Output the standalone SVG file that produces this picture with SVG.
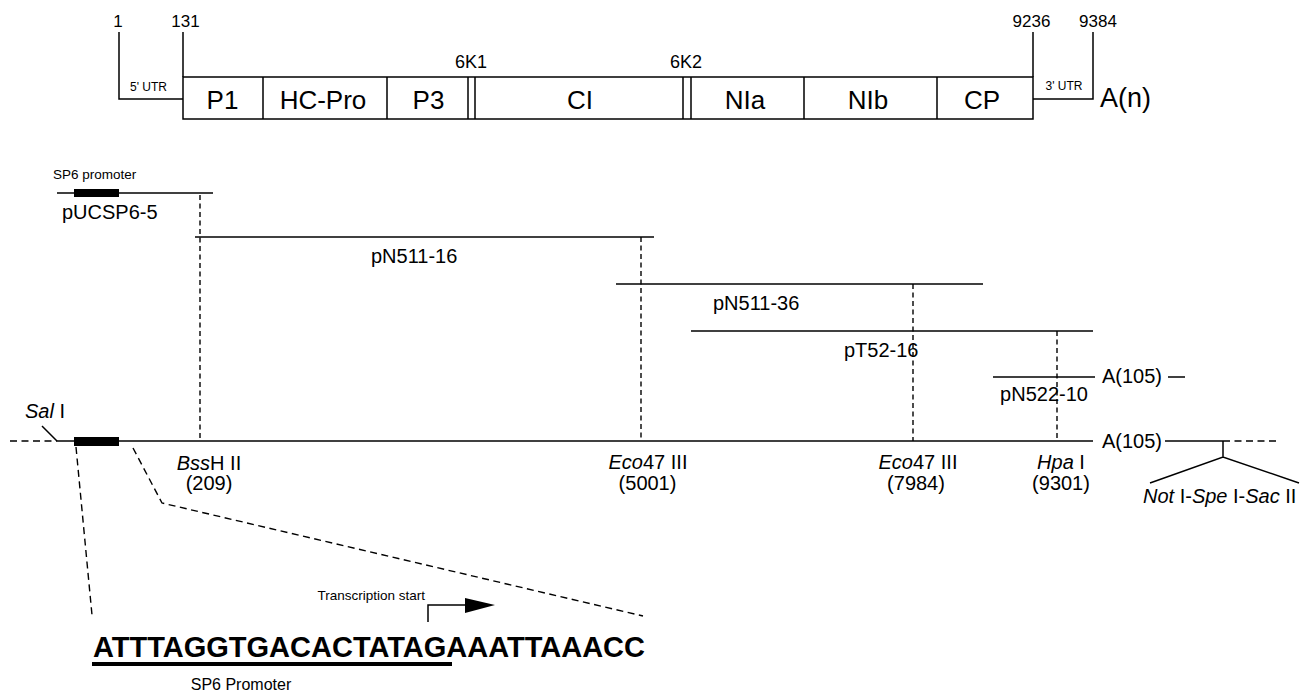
<svg xmlns="http://www.w3.org/2000/svg" width="1316" height="696" viewBox="0 0 1316 696">
<style>
text{font-family:"Liberation Sans",Arial,Helvetica,sans-serif;fill:#000}
.num{font-size:17px}
.k{font-size:18px}
.utr{font-size:12px}
.box{font-size:26px;text-anchor:middle}
.lab{font-size:20px}
.mid{text-anchor:middle}
.small{font-size:13.5px}
.ln{stroke:#000;stroke-width:1.5;fill:none}
.dv{stroke:#000;stroke-width:1.4;fill:none;stroke-dasharray:5,3.5}
.dl{stroke:#000;stroke-width:1.4;fill:none;stroke-dasharray:7,4.5}
.i{font-style:italic}
</style>
<rect width="1316" height="696" fill="#fff"/>

<g id="genome-map">
  <text class="num mid" x="118" y="27" text-anchor="middle">1</text>
  <text class="num" x="185.5" y="27" text-anchor="middle">131</text>
  <text class="num" x="1031.5" y="27" text-anchor="middle">9236</text>
  <text class="num" x="1098" y="27" text-anchor="middle">9384</text>
  <text class="k" x="471" y="68" text-anchor="middle">6K1</text>
  <text class="k" x="686" y="68" text-anchor="middle">6K2</text>
  <path class="ln" d="M119,32 V99 H183 M183,32 V77 M1033,32 V77 M1033,99 H1093 V32"/>
  <text class="utr" x="148.5" y="91" text-anchor="middle">5' UTR</text>
  <text class="utr" x="1064" y="90" text-anchor="middle">3' UTR</text>
  <rect class="ln" x="183" y="77" width="850" height="42"/>
  <path class="ln" d="M263,77 V119 M387,77 V119 M468,77 V119 M475,77 V119 M683,77 V119 M691,77 V119 M804,77 V119 M937,77 V119"/>
  <text class="box" x="222.5" y="109">P1</text>
  <text class="box" x="323" y="109">HC-Pro</text>
  <text class="box" x="428.5" y="109">P3</text>
  <text class="box" x="580" y="109">CI</text>
  <text class="box" x="745" y="109">NIa</text>
  <text class="box" x="868" y="109">NIb</text>
  <text class="box" x="982" y="109">CP</text>
  <text x="1100" y="107" style="font-size:27px">A(n)</text>
</g>

<g id="pUCSP6-5">
  <text class="small" x="53" y="179">SP6 promoter</text>
  <line class="ln" x1="57" y1="193" x2="213" y2="193"/>
  <rect x="74" y="189" width="45" height="8" fill="#000"/>
  <text class="lab" x="62" y="219">pUCSP6-5</text>
</g>

<g id="pN511-16">
  <line class="ln" x1="195" y1="237" x2="654" y2="237"/>
  <text class="lab" x="371" y="263">pN511-16</text>
</g>

<g id="pN511-36">
  <line class="ln" x1="616" y1="284" x2="983" y2="284"/>
  <text class="lab" x="713" y="310">pN511-36</text>
</g>

<g id="pT52-16">
  <line class="ln" x1="691" y1="331" x2="1093" y2="331"/>
  <text class="lab" x="844" y="357">pT52-16</text>
</g>

<g id="pN522-10">
  <line class="ln" x1="993" y1="377" x2="1095" y2="377"/>
  <text class="lab" x="1102" y="383">A(105)</text>
  <line class="ln" x1="1168" y1="377" x2="1185" y2="377"/>
  <text class="lab" x="1044" y="401" text-anchor="middle">pN522-10</text>
</g>

<g id="full-length-clone">
  <line class="dl" x1="10" y1="441" x2="57" y2="441"/>
  <line class="ln" x1="57" y1="441" x2="1093" y2="441"/>
  <rect x="74" y="437" width="45" height="9" fill="#000"/>
  <line class="ln" x1="42" y1="426" x2="57" y2="441"/>
  <text class="lab" x="25" y="418"><tspan class="i">Sal</tspan> I</text>
  <text class="lab" x="1102" y="448">A(105)</text>
  <line class="ln" x1="1165" y1="441" x2="1223" y2="441"/>
  <line class="dl" x1="1223" y1="441" x2="1278" y2="441"/>
  <path class="ln" d="M1223,441 V457 M1150,483 L1223,457 L1299,483"/>
  <text class="lab" x="1143" y="503"><tspan class="i">Not</tspan> I-<tspan class="i">Spe</tspan> I-<tspan class="i">Sac</tspan> II</text>
</g>

<g id="site-BssHII">
  <text class="lab" x="209" y="470" text-anchor="middle"><tspan class="i">Bss</tspan>H II</text>
  <text class="lab" x="209" y="490" text-anchor="middle">(209)</text>
</g>
<g id="site-Eco47III-5001">
  <text class="lab" x="648" y="469" text-anchor="middle"><tspan class="i">Eco</tspan>47 III</text>
  <text class="lab" x="647.5" y="490" text-anchor="middle">(5001)</text>
</g>
<g id="site-Eco47III-7984">
  <text class="lab" x="918" y="469" text-anchor="middle"><tspan class="i">Eco</tspan>47 III</text>
  <text class="lab" x="916" y="490" text-anchor="middle">(7984)</text>
</g>
<g id="site-HpaI">
  <text class="lab" x="1061" y="469" text-anchor="middle"><tspan class="i">Hpa</tspan> I</text>
  <text class="lab" x="1061" y="490" text-anchor="middle">(9301)</text>
</g>

<g id="promoter-detail">
  <text x="425" y="600" text-anchor="end" style="font-size:13.5px">Transcription start</text>
  <path class="ln" d="M428,622 V605 H467"/>
  <polygon points="465,598 495,605 465,613" fill="#000"/>
  <text x="93" y="657" textLength="552" lengthAdjust="spacingAndGlyphs" style="font-size:29px;font-weight:bold">ATTTAGGTGACACTATAGAAATTAAACC</text>
  <rect x="92" y="662" width="360" height="4" fill="#000"/>
  <text x="241" y="690" text-anchor="middle" style="font-size:16px">SP6 Promoter</text>
</g>

<g id="connectors">
  <line class="dv" x1="200" y1="195" x2="200" y2="441"/>
  <line class="dv" x1="641" y1="237" x2="641" y2="441"/>
  <line class="dv" x1="913" y1="284" x2="913" y2="441"/>
  <line class="dv" x1="1057" y1="331" x2="1057" y2="441"/>
  <line class="dl" x1="76" y1="447" x2="92" y2="615"/>
  <polyline class="dl" points="133,448 162,503 643,616"/>
</g>
</svg>
